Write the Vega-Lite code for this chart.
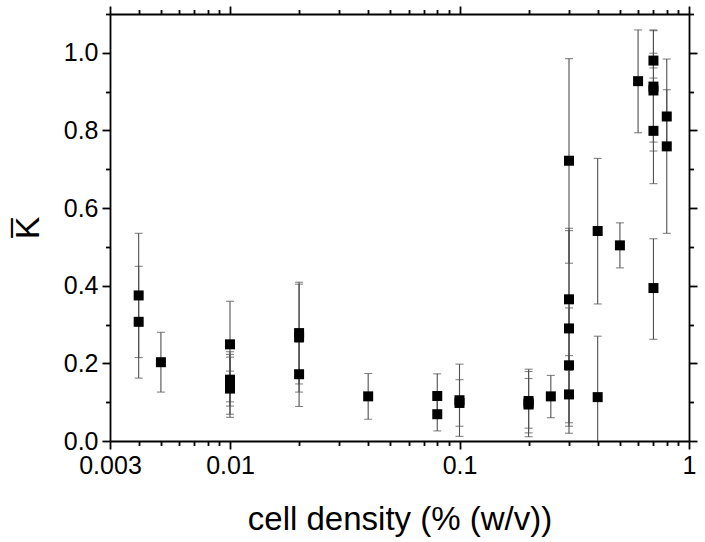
{
  "$schema": "https://vega.github.io/schema/vega-lite/v6.json",
  "autosize": "none",
  "width": 579,
  "height": 427,
  "padding": {"left": 110, "top": 14, "right": 16, "bottom": 101},
  "background": "white",
  "config": {
    "view": {"stroke": null},
    "axis": {
      "labelFont": "Liberation Sans",
      "titleFont": "Liberation Sans",
      "labelColor": "black",
      "titleColor": "black",
      "domainColor": "black",
      "tickColor": "black",
      "domainWidth": 1.8,
      "tickWidth": 1.8,
      "grid": false,
      "labelFontSize": 25,
      "titleFontWeight": "normal"
    }
  },
  "data": {
    "values": [
      {"x": 0.004, "k": 0.375, "lo": 0.215, "hi": 0.535},
      {"x": 0.004, "k": 0.307, "lo": 0.162, "hi": 0.450},
      {"x": 0.005, "k": 0.203, "lo": 0.126, "hi": 0.280},
      {"x": 0.01, "k": 0.249, "lo": 0.138, "hi": 0.360},
      {"x": 0.01, "k": 0.158, "lo": 0.101, "hi": 0.216},
      {"x": 0.01, "k": 0.146, "lo": 0.061, "hi": 0.230},
      {"x": 0.01, "k": 0.145, "lo": 0.069, "hi": 0.223},
      {"x": 0.01, "k": 0.135, "lo": 0.090, "hi": 0.180},
      {"x": 0.02, "k": 0.278, "lo": 0.147, "hi": 0.409},
      {"x": 0.02, "k": 0.267, "lo": 0.126, "hi": 0.404},
      {"x": 0.02, "k": 0.172, "lo": 0.089, "hi": 0.255},
      {"x": 0.04, "k": 0.115, "lo": 0.056, "hi": 0.174},
      {"x": 0.08, "k": 0.116, "lo": 0.059, "hi": 0.173},
      {"x": 0.08, "k": 0.069, "lo": 0.026, "hi": 0.112},
      {"x": 0.1, "k": 0.105, "lo": 0.012, "hi": 0.198},
      {"x": 0.1, "k": 0.098, "lo": 0.038, "hi": 0.158},
      {"x": 0.2, "k": 0.103, "lo": 0.021, "hi": 0.185},
      {"x": 0.2, "k": 0.097, "lo": 0.033, "hi": 0.161},
      {"x": 0.2, "k": 0.094, "lo": 0.011, "hi": 0.179},
      {"x": 0.25, "k": 0.115, "lo": 0.060, "hi": 0.169},
      {"x": 0.3, "k": 0.722, "lo": 0.458, "hi": 0.985},
      {"x": 0.3, "k": 0.365, "lo": 0.182, "hi": 0.548},
      {"x": 0.3, "k": 0.290, "lo": 0.038, "hi": 0.542},
      {"x": 0.3, "k": 0.195, "lo": 0.047, "hi": 0.343},
      {"x": 0.3, "k": 0.120, "lo": 0.020, "hi": 0.220},
      {"x": 0.4, "k": 0.541, "lo": 0.353, "hi": 0.728},
      {"x": 0.4, "k": 0.113, "lo": -0.044, "hi": 0.270},
      {"x": 0.5, "k": 0.504, "lo": 0.446, "hi": 0.562},
      {"x": 0.6, "k": 0.927, "lo": 0.794, "hi": 1.059},
      {"x": 0.7, "k": 0.980, "lo": 0.961, "hi": 0.999},
      {"x": 0.7, "k": 0.913, "lo": 0.770, "hi": 1.057},
      {"x": 0.7, "k": 0.903, "lo": 0.747, "hi": 1.059},
      {"x": 0.7, "k": 0.799, "lo": 0.663, "hi": 0.935},
      {"x": 0.7, "k": 0.394, "lo": 0.262, "hi": 0.521},
      {"x": 0.8, "k": 0.836, "lo": 0.767, "hi": 0.905},
      {"x": 0.8, "k": 0.759, "lo": 0.535, "hi": 0.984}
    ]
  },
  "resolve": {"axis": {"x": "independent", "y": "independent"}},
  "layer": [
    {
      "mark": {"type": "rule", "color": "#505050", "strokeWidth": 1.1, "clip": true},
      "encoding": {
        "x": {
          "field": "x", "type": "quantitative",
          "scale": {"type": "log", "domain": [0.003, 1], "nice": false},
          "axis": {
            "orient": "bottom",
            "values": [0.003, 0.01, 0.1, 1],
            "labelExpr": "datum.value < 0.005 ? '0.003' : datum.value < 0.05 ? '0.01' : datum.value < 0.5 ? '0.1' : '1'",
            "tickSize": 8,
            "labelPadding": 4,
            "labelFlush": false,
            "labelOverlap": false,
            "title": "cell density (% (w/v))",
            "titleFontSize": 33,
            "titleBaseline": "alphabetic",
            "titleY": 88
          }
        },
        "y": {
          "field": "lo", "type": "quantitative",
          "scale": {"domain": [0, 1.1], "nice": false, "zero": false},
          "axis": {
            "orient": "left",
            "values": [0, 0.2, 0.4, 0.6, 0.8, 1.0],
            "format": ".1f",
            "tickSize": 8,
            "labelPadding": 4,
            "labelFlush": false,
            "labelOverlap": false,
            "title": "K\u0305",
            "titleFontSize": 34,
            "titleBaseline": "alphabetic",
            "titleAngle": -90,
            "titleX": -72
          }
        },
        "y2": {"field": "hi"}
      }
    },
    {
      "mark": {"type": "tick", "orient": "horizontal", "color": "#505050", "size": 8, "thickness": 1.1, "clip": true},
      "encoding": {
        "x": {
          "field": "x", "type": "quantitative",
          "axis": {
            "orient": "bottom",
            "values": [0.004, 0.005, 0.006, 0.007, 0.008, 0.009, 0.02, 0.03, 0.04, 0.05, 0.06, 0.07, 0.08, 0.09, 0.2, 0.3, 0.4, 0.5, 0.6, 0.7, 0.8, 0.9],
            "labels": false, "domain": false, "tickSize": 4.5, "title": null
          }
        },
        "y": {
          "field": "lo", "type": "quantitative",
          "axis": {
            "orient": "left",
            "values": [0.1, 0.3, 0.5, 0.7, 0.9, 1.1],
            "labels": false, "domain": false, "tickSize": 4.5, "title": null
          }
        }
      }
    },
    {
      "mark": {"type": "tick", "orient": "horizontal", "color": "#505050", "size": 8, "thickness": 1.1, "clip": true},
      "encoding": {
        "x": {
          "field": "x", "type": "quantitative",
          "axis": {
            "orient": "top",
            "values": [0.003, 0.01, 0.1, 1],
            "labels": false, "domain": true, "tickSize": 8, "title": null
          }
        },
        "y": {
          "field": "hi", "type": "quantitative",
          "axis": {
            "orient": "right",
            "values": [0, 0.2, 0.4, 0.6, 0.8, 1.0],
            "labels": false, "domain": true, "tickSize": 8, "title": null
          }
        }
      }
    },
    {
      "mark": {"type": "point", "shape": "square", "filled": true, "color": "black", "opacity": 1, "size": 100},
      "encoding": {
        "x": {
          "field": "x", "type": "quantitative",
          "axis": {
            "orient": "top",
            "values": [0.004, 0.005, 0.006, 0.007, 0.008, 0.009, 0.02, 0.03, 0.04, 0.05, 0.06, 0.07, 0.08, 0.09, 0.2, 0.3, 0.4, 0.5, 0.6, 0.7, 0.8, 0.9],
            "labels": false, "domain": false, "tickSize": 4.5, "title": null
          }
        },
        "y": {
          "field": "k", "type": "quantitative",
          "axis": {
            "orient": "right",
            "values": [0.1, 0.3, 0.5, 0.7, 0.9, 1.1],
            "labels": false, "domain": false, "tickSize": 4.5, "title": null
          }
        }
      }
    }
  ]
}
